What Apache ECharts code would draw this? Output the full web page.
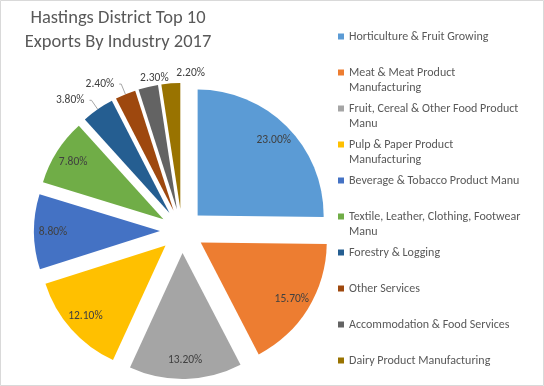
<!DOCTYPE html>
<html>
<head>
<meta charset="utf-8">
<script src="https://cdn.jsdelivr.net/npm/echarts@6/dist/echarts.min.js"></script>
<style>
  html, body { margin: 0; padding: 0; background: #fff; }
  #chart { width: 544px; height: 386px; }
</style>
</head>
<body>
<div id="chart"></div>
<script>
const titleText = 'Hastings District Top 10\nExports By Industry 2017';
const categories = [
  'Horticulture & Fruit Growing',
  'Meat & Meat Product Manufacturing',
  'Fruit, Cereal & Other Food Product Manu',
  'Pulp & Paper Product Manufacturing',
  'Beverage & Tobacco Product Manu',
  'Textile, Leather, Clothing, Footwear Manu',
  'Forestry & Logging',
  'Other Services',
  'Accommodation & Food Services',
  'Dairy Product Manufacturing'
];
const legendLines = [
  ['Horticulture & Fruit Growing'],
  ['Meat & Meat Product', 'Manufacturing'],
  ['Fruit, Cereal & Other Food Product', 'Manu'],
  ['Pulp & Paper Product', 'Manufacturing'],
  ['Beverage & Tobacco Product Manu'],
  ['Textile, Leather, Clothing, Footwear', 'Manu'],
  ['Forestry & Logging'],
  ['Other Services'],
  ['Accommodation & Food Services'],
  ['Dairy Product Manufacturing']
];
const values = [23.0, 15.7, 13.2, 12.1, 8.8, 7.8, 3.8, 2.4, 2.3, 2.2];
const colors = ['#5B9BD5', '#ED7D31', '#A5A5A5', '#FFC000', '#4472C4', '#70AD47', '#255E91', '#9E480E', '#636363', '#997300'];
const insideMin = 5;
// small-slice labels that sit above their slice without a leader line: horizontal/vertical nudge
const labelNudge = { 8: [30, 2], 9: [42, 1] };

const FONT = 'Carlito, Lato, sans-serif';
const fmt = p => p.value.toFixed(2) + '%';

const chart = echarts.init(document.getElementById('chart'), null, { renderer: 'canvas' });

const baseData = categories.map((name, i) => ({
  name: name,
  value: values[i],
  selected: true,
  itemStyle: { color: colors[i] },
  label: { show: values[i] < insideMin },
  labelLine: { show: values[i] < insideMin && !(i in labelNudge) }
}));
const ringData = categories.map((name, i) => ({
  name: name,
  value: values[i],
  selected: true,
  itemStyle: { color: 'rgba(0,0,0,0)' },
  label: { show: values[i] >= insideMin }
}));

const common = {
  type: 'pie',
  center: [182, 231],
  startAngle: 90,
  clockwise: true,
  selectedMode: 'multiple',
  selectedOffset: 22,
  animation: false,
  emphasis: { disabled: true }
};

chart.setOption({
  backgroundColor: '#ffffff',
  animation: false,
  color: colors,
  title: {
    text: titleText,
    left: 113,
    top: 1,
    textAlign: 'center',
    textStyle: { fontFamily: FONT, fontSize: 18.5, fontWeight: 'normal', color: '#595959', lineHeight: 24 }
  },
  legend: {
    orient: 'vertical',
    left: 338,
    top: 14,
    padding: 0,
    itemGap: -9,
    itemWidth: 6,
    itemHeight: 6,
    icon: 'rect',
    selectedMode: false,
    data: categories,
    formatter: name => {
      const lines = legendLines[categories.indexOf(name)];
      return '\n' + lines[0] + '\n' + (lines[1] || '');
    },
    textStyle: { fontFamily: FONT, fontSize: 12, color: '#595959', lineHeight: 15 }
  },
  graphic: [{
    type: 'rect',
    shape: { x: 0.5, y: 0.5, width: 543, height: 385 },
    style: { fill: 'none', stroke: '#d9d9d9', lineWidth: 1 },
    silent: true
  }],
  series: [
    Object.assign({}, common, {
      name: 'exports',
      radius: 126,
      avoidLabelOverlap: false,
      data: baseData,
      label: {
        position: 'outside',
        formatter: fmt,
        fontFamily: FONT,
        fontSize: 11.5,
        color: '#404040'
      },
      labelLine: {
        length: 11,
        length2: 2,
        lineStyle: { color: '#a6a6a6', width: 1 }
      },
      labelLayout: params => {
        const n = labelNudge[params.dataIndex];
        return n ? { dx: n[0], dy: n[1] } : {};
      }
    }),
    Object.assign({}, common, {
      name: 'labels',
      radius: [82, 126],
      silent: true,
      data: ringData,
      label: {
        position: 'inside',
        formatter: fmt,
        fontFamily: FONT,
        fontSize: 11.5,
        color: '#404040'
      },
      labelLine: { show: false }
    })
  ]
});
</script>
</body>
</html>
